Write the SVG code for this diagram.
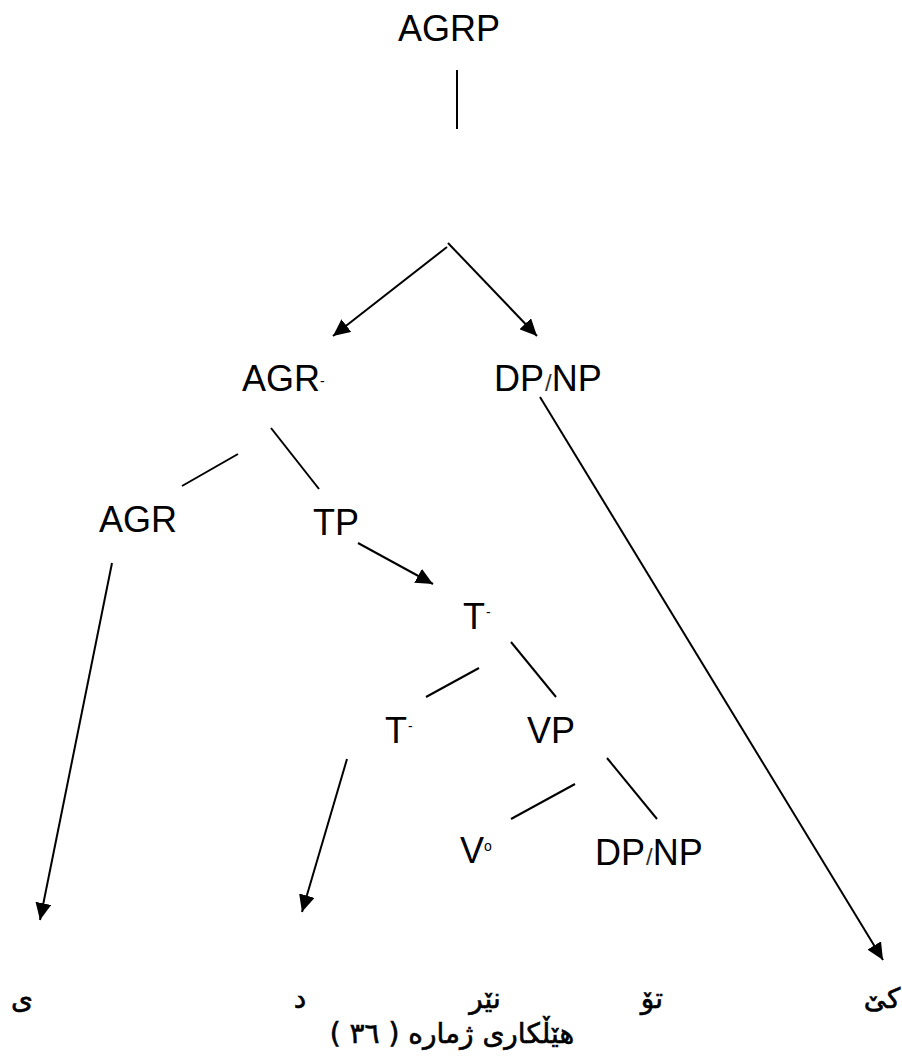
<svg xmlns="http://www.w3.org/2000/svg" width="902" height="1057" viewBox="0 0 902 1057">
<style>
.lbl{font-family:"Liberation Sans",Arial,sans-serif;font-size:36px;fill:#000}
.sm{font-size:14px}
.sl{font-size:24px;fill:#333}
.ku{font-family:"DejaVu Sans","Noto Sans",sans-serif;font-size:28px;fill:#000;stroke:#000;stroke-width:0.6}
.ln{stroke:#000;stroke-width:2;fill:none}
.ar{stroke:#000;stroke-width:2;fill:none;marker-end:url(#ah)}
</style>
<defs>
<marker id="ah" markerUnits="userSpaceOnUse" markerWidth="18" markerHeight="16" refX="17" refY="8" orient="auto">
<path d="M0,0 L17,8 L0,16 z" fill="#000"/>
</marker>
</defs>
<rect width="902" height="1057" fill="#fff"/>
<g id="n-agrp"><text class="lbl" x="398" y="41">AGRP</text></g>
<g id="n-agrbar"><text class="lbl" x="242" y="391">AGR<tspan class="sm" dy="-5">-</tspan></text></g>
<g id="n-dpnp1"><text class="lbl" x="494" y="391">DP<tspan class="sl" dx="1">/</tspan>NP</text></g>
<g id="n-agr"><text class="lbl" x="99" y="532">AGR</text></g>
<g id="n-tp"><text class="lbl" x="313" y="535">TP</text></g>
<g id="n-tbar1"><text class="lbl" x="463" y="629">T<tspan class="sm" dx="1" dy="-12">-</tspan></text></g>
<g id="n-tbar2"><text class="lbl" x="385" y="743">T<tspan class="sm" dx="1" dy="-12">-</tspan></text></g>
<g id="n-vp"><text class="lbl" x="527" y="743">VP</text></g>
<g id="n-v0"><text class="lbl" x="460" y="863">V<tspan class="sm" font-size="16" dy="-12">o</tspan></text></g>
<g id="n-dpnp2"><text class="lbl" x="595" y="865">DP<tspan class="sl" dx="1">/</tspan>NP</text></g>
<g id="n-words">
<text class="ku" x="22" y="1008" text-anchor="middle" direction="rtl">ی</text>
<text class="ku" x="300" y="1008" text-anchor="middle" direction="rtl">د</text>
<text class="ku" x="485" y="1008" text-anchor="middle" direction="rtl">نێر</text>
<text class="ku" x="652" y="1008" text-anchor="middle" direction="rtl">تۆ</text>
<text class="ku" x="882" y="1008" text-anchor="middle" direction="rtl">کێ</text>
</g>
<g id="n-caption"><text class="ku" x="452" y="1043" text-anchor="middle" direction="rtl">هێڵکاری ژماره ( ٣٦ )</text></g>
<g id="connectors">
<line class="ln" x1="457" y1="70" x2="457" y2="129" stroke-width="1.5"/>
<line class="ar" x1="447" y1="247" x2="333" y2="336"/>
<line class="ar" x1="448" y1="243" x2="537" y2="336"/>
<line class="ln" x1="238" y1="454" x2="182" y2="486"/>
<line class="ln" x1="271" y1="428" x2="319" y2="489"/>
<line class="ar" x1="358" y1="543" x2="433" y2="584"/>
<line class="ln" x1="479" y1="668" x2="426" y2="697"/>
<line class="ln" x1="511" y1="642" x2="556" y2="697"/>
<line class="ln" x1="575" y1="784" x2="511" y2="819"/>
<line class="ln" x1="607" y1="758" x2="657" y2="819"/>
<line class="ar" x1="112" y1="563" x2="40" y2="920"/>
<line class="ar" x1="347" y1="759" x2="302" y2="912"/>
<line class="ar" x1="540" y1="397" x2="883" y2="960"/>
</g>
</svg>
